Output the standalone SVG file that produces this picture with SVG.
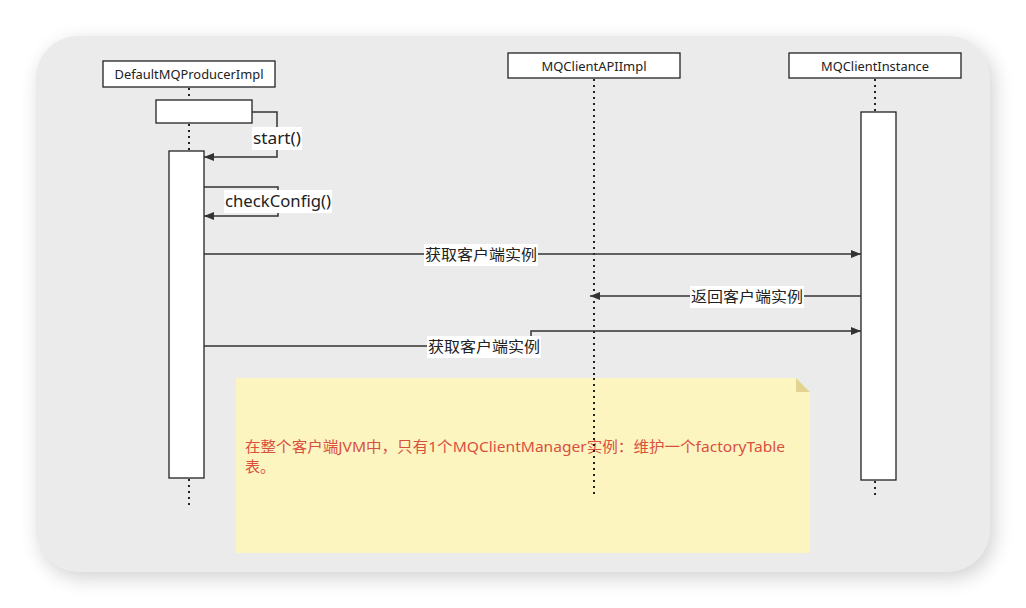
<svg xmlns="http://www.w3.org/2000/svg" width="1026" height="608" viewBox="0 0 1026 608">
<defs>
<filter id="sh" x="-10%" y="-10%" width="120%" height="120%"><feGaussianBlur stdDeviation="10"/></filter>
<marker id="ar" markerWidth="10" markerHeight="8" refX="10" refY="4" orient="auto" markerUnits="userSpaceOnUse"><path d="M0,0 L10,4 L0,8 Z" fill="#333"/></marker>
<style>
.hdr{fill:#fff;stroke:#222;stroke-width:1.3}
.act{fill:#fff;stroke:#222;stroke-width:1.3}
.ll{stroke:#222;stroke-width:2;stroke-dasharray:2 4;fill:none}
.t{font-family:"Noto Sans","Noto Sans CJK SC",sans-serif;fill:#222}
.msg{stroke:#333;stroke-width:1.5;fill:none;marker-end:url(#ar)}
.lb{fill:#fff}
</style>
</defs>
<rect x="0" y="0" width="1026" height="608" fill="#fff"/>
<rect x="40" y="42" width="954" height="536" rx="42" fill="#000" opacity="0.18" filter="url(#sh)"/>
<rect x="36" y="36" width="954" height="536" rx="42" fill="#ebebeb"/>

<g id="lifelines">
<path class="ll" d="M189,88 V100 M189,124 V151 M189,479 V506"/>
<path class="ll" d="M594,79 V498"/>
<path class="ll" d="M875,79 V112 M875,481 V498"/>
</g>

<g id="DefaultMQProducerImpl">
<rect class="hdr" x="103" y="61" width="172" height="26"/>
<text class="t" x="189" y="79" font-size="13" text-anchor="middle" textLength="149" lengthAdjust="spacingAndGlyphs">DefaultMQProducerImpl</text>
<rect class="act" x="156" y="100" width="96" height="23"/>
<rect class="act" x="169" y="151" width="35" height="327"/>
</g>
<g id="MQClientAPIImpl">
<rect class="hdr" x="508" y="53" width="172" height="25"/>
<text class="t" x="594" y="71" font-size="13" text-anchor="middle" textLength="105" lengthAdjust="spacingAndGlyphs">MQClientAPIImpl</text>
</g>
<g id="MQClientInstance">
<rect class="hdr" x="789" y="53" width="172" height="25"/>
<text class="t" x="875" y="71" font-size="13" text-anchor="middle" textLength="108" lengthAdjust="spacingAndGlyphs">MQClientInstance</text>
<rect class="act" x="861" y="112" width="35" height="368"/>
</g>

<g id="note">
<path d="M236,378 H796 L810,392 V553 H236 Z" fill="#fdf5c0"/>
<path d="M796,378 L810,392 H796 Z" fill="#e3d391"/>
<text x="245" y="452" font-size="15" fill="#d9503f" font-family="'Noto Sans','Noto Sans CJK SC',sans-serif" textLength="540" lengthAdjust="spacingAndGlyphs">在整个客户端JVM中，只有1个MQClientManager实例：维护一个factoryTable</text>
<text x="245" y="472" font-size="15" fill="#d9503f" font-family="'Noto Sans','Noto Sans CJK SC',sans-serif">表。</text>
</g>
<path class="ll" d="M594,378 V498"/>

<g id="connectors">
<path class="msg" d="M252,112 H277 V157 H204"/>
<rect class="lb" x="252" y="127" width="50" height="23"/>
<text class="t" x="277" y="144" font-size="16" text-anchor="middle" textLength="48" lengthAdjust="spacingAndGlyphs">start()</text>
<path class="msg" d="M204,187 H278 V216 H204"/>
<rect class="lb" x="224" y="190" width="108" height="23"/>
<text class="t" x="278" y="207" font-size="16" text-anchor="middle" textLength="106" lengthAdjust="spacingAndGlyphs">checkConfig()</text>
<path class="msg" d="M204,254 H861"/>
<rect class="lb" x="424" y="244" width="114" height="22"/>
<text class="t" x="481" y="260" font-size="15" text-anchor="middle" textLength="112" lengthAdjust="spacingAndGlyphs">获取客户端实例</text>
<path class="msg" d="M861,296 H590"/>
<rect class="lb" x="690" y="286" width="114" height="22"/>
<text class="t" x="747" y="302" font-size="15" text-anchor="middle" textLength="112" lengthAdjust="spacingAndGlyphs">返回客户端实例</text>
<path class="msg" d="M204,346 H531 V331 H861"/>
<rect class="lb" x="427" y="336" width="114" height="22"/>
<text class="t" x="484" y="352" font-size="15" text-anchor="middle" textLength="112" lengthAdjust="spacingAndGlyphs">获取客户端实例</text>
</g>
</svg>
